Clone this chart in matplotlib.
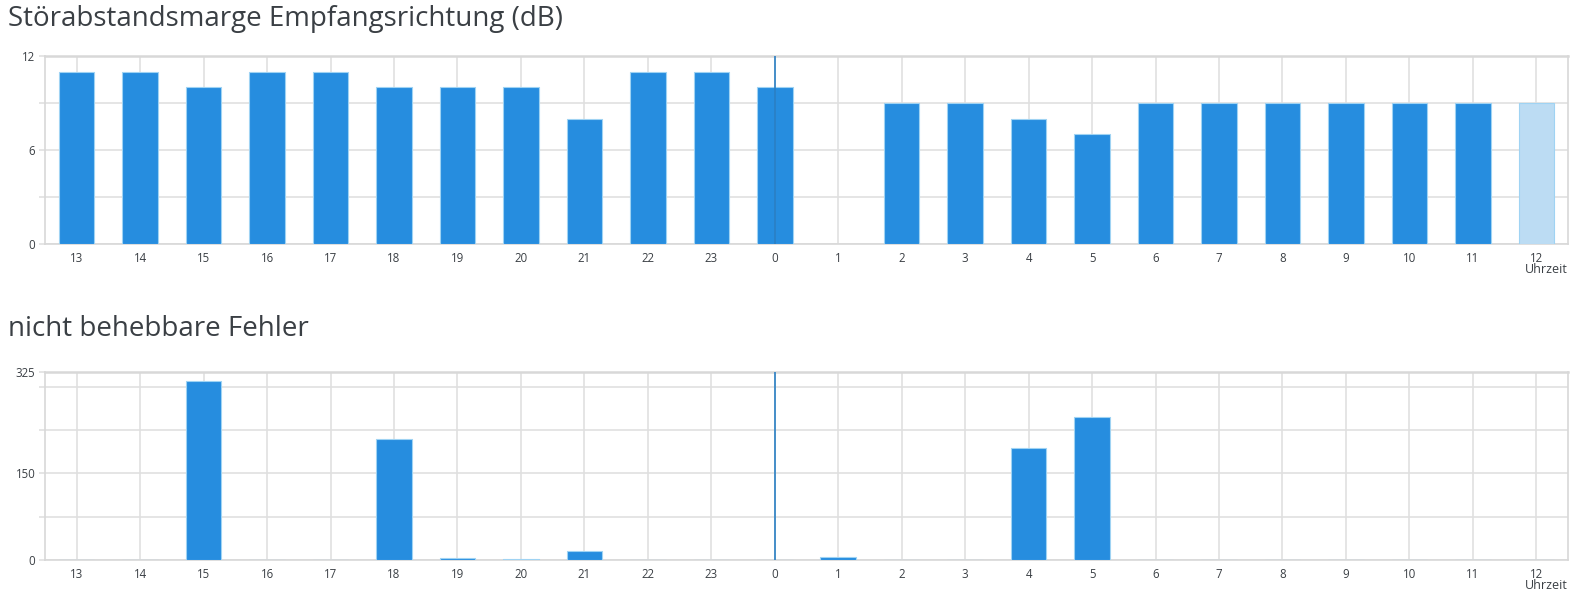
import numpy as np
import matplotlib
matplotlib.use('Agg')
import matplotlib.pyplot as plt

stunden = ['13', '14', '15', '16', '17', '18', '19', '20', '21', '22', '23', '0',
           '1', '2', '3', '4', '5', '6', '7', '8', '9', '10', '11', '12']
snr_db = [11, 11, 10, 11, 11, 10, 10, 10, 8, 11, 11, 10,
          np.nan, 9, 9, 8, 7, 9, 9, 9, 9, 9, 9, 9]
fehler = [0, 0, 311, 0, 0, 209, 3, 1, 15, 0, 0, 0,
          5, 0, 0, 195, 248, 0, 0, 0, 0, 0, 0, 0]
mitternacht = '0'

blau = '#268ddf'
hellblau = '#bcdcf3'
rand = '#9fd3f3'
gitter = '#e0e0e0'
textfarbe = '#3a3f44'

plt.rcParams['font.family'] = ['Open Sans', 'DejaVu Sans']

fig = plt.figure(figsize=(15.89, 6.04), dpi=100)
ax1 = fig.add_axes([0.0283, 0.596, 0.9585, 0.3113])
ax2 = fig.add_axes([0.0283, 0.0728, 0.9585, 0.3105])

x = np.arange(len(stunden))


def achse(ax, yticks, ylabels, ymax):
    ax.set_xlim(-0.5, len(stunden) - 0.5)
    ax.set_ylim(0, ymax)
    ax.set_xticks(x)
    ax.set_xticklabels(stunden)
    ax.set_yticks(yticks)
    ax.set_yticklabels(ylabels)
    ax.grid(True, color=gitter, linewidth=1.2, zorder=0)
    ax.set_axisbelow(True)
    for s in ax.spines.values():
        s.set_color('#d8d8d8')
        s.set_linewidth(1.2)
    ax.spines['top'].set_linewidth(1.8)
    ax.tick_params(axis='x', length=0, pad=6, labelsize=8.3, colors=textfarbe)
    ax.tick_params(axis='y', length=4, width=1.2, color=gitter, pad=3,
                   labelsize=8.3, colors=textfarbe)
    ax.text(1.0, -0.1, 'Uhrzeit', transform=ax.transAxes, ha='right',
            va='top', fontsize=9, color=textfarbe)
    ax.axvline(stunden.index(mitternacht), color='#2a7fc4', linewidth=1.2,
               zorder=5)


farben = [blau] * (len(stunden) - 1) + [hellblau]
ax1.bar(x, snr_db, width=0.56, color=farben, edgecolor=rand, linewidth=0.8,
        zorder=3)
achse(ax1, [0, 3, 6, 9, 12], ['0', '', '6', '', '12'], 12)

ax2.bar(x, fehler, width=0.56, color=blau, edgecolor=rand, linewidth=0.8,
        zorder=3)
achse(ax2, [0, 75, 150, 225, 300, 325], ['0', '', '150', '', '', '325'], 325)

fig.text(0.005, 0.968, 'Störabstandsmarge Empfangsrichtung (dB)', fontsize=20,
         color=textfarbe, va='center', ha='left')
fig.text(0.005, 0.455, 'nicht behebbare Fehler', fontsize=20,
         color=textfarbe, va='center', ha='left')

fig.savefig('out.png', dpi=100)
